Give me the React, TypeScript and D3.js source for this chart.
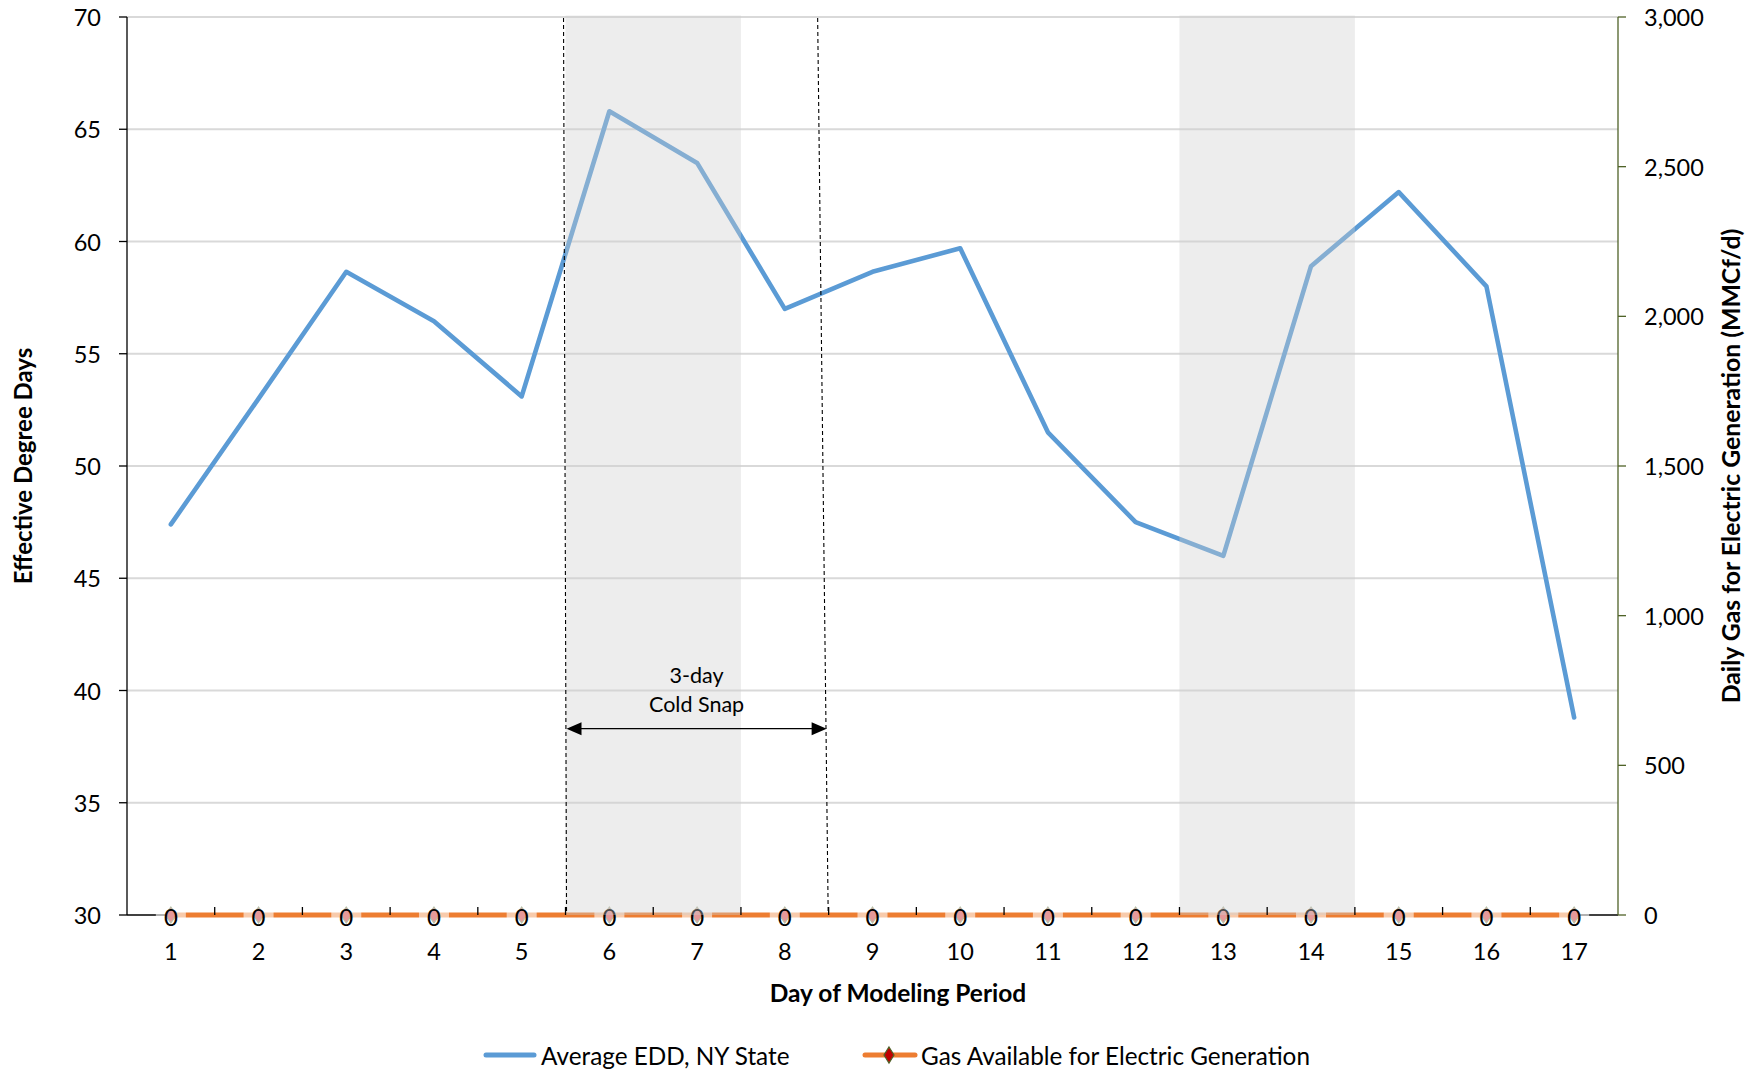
import React from "react";
import * as d3 from "d3";

// ---------- data ----------
const days = ["1", "2", "3", "4", "5", "6", "7", "8", "9", "10", "11", "12", "13", "14", "15", "16", "17"];
const averageEdd = [47.4, 53.0, 58.65, 56.45, 53.1, 65.8, 63.5, 57.0, 58.65, 59.7, 51.5, 47.5, 46.0, 58.9, 62.2, 58.0, 38.8];
const gasAvailable = [0, 0, 0, 0, 0, 0, 0, 0, 0, 0, 0, 0, 0, 0, 0, 0, 0];
const leftTicks = [30, 35, 40, 45, 50, 55, 60, 65, 70];
const rightTicks = [0, 500, 1000, 1500, 2000, 2500, 3000];
const shadedPeriods: [string, string][] = [["6", "7"], ["13", "14"]];
const coldSnapRange: [string, string] = ["6", "8"];
const coldSnapArrowLevel = 38.3;
const coldSnapLabel = ["3-day", "Cold Snap"];
const seriesNames = ["Average EDD, NY State", "Gas Available for Electric Generation"];

// ---------- layout ----------
const W = 1758;
const H = 1069;
const L = 127;
const R = 1618;
const T = 17;
const B = 915;
const FONT = "Lato, 'Open Sans', sans-serif";
const BLUE = "#5b9bd5";
const ORANGE = "#ed7d31";
const GREEN = "#4f6228";
const TICK_FS = 23.5;

export default function App() {
  const x = d3.scaleBand<string>().domain(days).range([L, R]).paddingInner(0).paddingOuter(0);
  const bw = x.bandwidth();
  const cx = (d: string) => (x(d) as number) + bw / 2;
  const yL = d3.scaleLinear().domain([30, 70]).range([B, T]);
  const yR = d3.scaleLinear().domain([0, 3000]).range([B, T]);

  const eddLine = d3
    .line<number>()
    .x((_, i) => cx(days[i]))
    .y((v) => yL(v))(averageEdd) as string;
  const gasLine = d3
    .line<number>()
    .x((_, i) => cx(days[i]))
    .y((v) => yR(v))(gasAvailable) as string;

  const fmt = d3.format(",");
  const snapX0 = x(coldSnapRange[0]) as number;
  const snapX1 = (x(coldSnapRange[1]) as number) + bw;
  const arrowY = yL(coldSnapArrowLevel);
  const ax0 = snapX0 + 1;
  const ax1 = snapX1 - 2;

  return (
    <svg
      width={W}
      height={H}
      style={{ position: "absolute", left: 0, top: 0, background: "#fff" }}
      fontFamily={FONT}
    >
      {/* gridlines */}
      {leftTicks
        .filter((t) => t > 30)
        .map((t) => (
          <line key={"g" + t} x1={L} x2={R} y1={yL(t)} y2={yL(t)} stroke="#d9d9d9" strokeWidth={1.8} />
        ))}

      {/* series lines */}
      <path d={eddLine} fill="none" stroke={BLUE} strokeWidth={4.6} strokeLinejoin="round" strokeLinecap="round" />
      <line x1={L} x2={R} y1={B} y2={B} stroke="#000" strokeWidth={1.3} />
      <path d={gasLine} fill="none" stroke={ORANGE} strokeWidth={5} />

      {/* gas markers + data labels */}
      {gasAvailable.map((v, i) => {
        const px = cx(days[i]);
        const py = yR(v);
        return (
          <g key={"lab" + i}>
            <polygon
              points={`${px},${py - 8} ${px + 5.5},${py} ${px},${py + 8} ${px - 5.5},${py}`}
              fill="#c00000"
              stroke={GREEN}
              strokeWidth={1.2}
            />
            <rect x={px - 15} y={py - 13} width={30} height={26} fill="#fff" fillOpacity={0.6} />
            <text x={px} y={py + 1} textAnchor="middle" dominantBaseline="central" fontSize={24} fill="#000">
              {fmt(v)}
            </text>
          </g>
        );
      })}

      {/* shaded periods (overlay) */}
      {shadedPeriods.map(([a, b], i) => (
        <rect
          key={"s" + i}
          x={x(a) as number}
          width={(x(b) as number) + bw - (x(a) as number)}
          y={T - 1.5}
          height={B - T + 1.5}
          fill="#cecece"
          fillOpacity={0.37}
        />
      ))}

      {/* x ticks (inside, at band boundaries) */}
      {days.slice(1).map((d) => (
        <line key={"xt" + d} x1={x(d) as number} x2={x(d) as number} y1={B} y2={B - 8} stroke="#000" strokeWidth={1.3} />
      ))}

      {/* cold snap dashed markers */}
      <line x1={snapX0 - 2} x2={snapX0 + 1} y1={T + 1} y2={B - 4} stroke="#000" strokeWidth={1.1} strokeDasharray="4,3" />
      <line x1={snapX1 - 11} x2={snapX1 - 0.5} y1={T + 1} y2={B - 4} stroke="#000" strokeWidth={1.1} strokeDasharray="4,3" />
      <line x1={ax0 + 8} x2={ax1 - 8} y1={arrowY} y2={arrowY} stroke="#000" strokeWidth={1.3} />
      <polygon points={`${ax0},${arrowY} ${ax0 + 15},${arrowY - 6.5} ${ax0 + 15},${arrowY + 6.5}`} fill="#000" />
      <polygon points={`${ax1},${arrowY} ${ax1 - 15},${arrowY - 6.5} ${ax1 - 15},${arrowY + 6.5}`} fill="#000" />
      <text x={(ax0 + ax1) / 2} y={arrowY - 54} textAnchor="middle" dominantBaseline="central" fontSize={21.5} fill="#000">
        {coldSnapLabel[0]}
      </text>
      <text x={(ax0 + ax1) / 2} y={arrowY - 25} textAnchor="middle" dominantBaseline="central" fontSize={21.5} fill="#000">
        {coldSnapLabel[1]}
      </text>

      {/* left axis */}
      <line x1={L} x2={L} y1={T} y2={B} stroke="#000" strokeWidth={1.3} />
      {leftTicks.map((t) => (
        <g key={"lt" + t}>
          <line x1={L - 8} x2={L} y1={yL(t)} y2={yL(t)} stroke="#000" strokeWidth={1.3} />
          <text x={101} y={yL(t)} textAnchor="end" dominantBaseline="central" fontSize={TICK_FS} fill="#000">
            {t}
          </text>
        </g>
      ))}

      {/* right axis */}
      <line x1={R} x2={R} y1={T} y2={B} stroke={GREEN} strokeWidth={1.3} />
      {rightTicks.map((t) => (
        <g key={"rt" + t}>
          <line x1={R} x2={R + 8} y1={yR(t)} y2={yR(t)} stroke={GREEN} strokeWidth={1.3} />
          <text x={1644} y={yR(t)} textAnchor="start" dominantBaseline="central" fontSize={TICK_FS} fill="#000">
            {fmt(t)}
          </text>
        </g>
      ))}

      {/* x labels */}
      {days.map((d) => (
        <text key={"xl" + d} x={cx(d)} y={951} textAnchor="middle" dominantBaseline="central" fontSize={TICK_FS} fill="#000">
          {d}
        </text>
      ))}

      {/* axis titles */}
      <text x={898} y={992} textAnchor="middle" dominantBaseline="central" fontSize={24.5} fontWeight="bold" fill="#000">
        Day of Modeling Period
      </text>
      <text
        transform={`translate(22,${(T + B) / 2}) rotate(-90)`}
        textAnchor="middle"
        dominantBaseline="central"
        fontSize={24}
        fontWeight="bold"
        fill="#000"
      >
        Effective Degree Days
      </text>
      <text
        transform={`translate(1730,${(T + B) / 2}) rotate(-90)`}
        textAnchor="middle"
        dominantBaseline="central"
        fontSize={24.8}
        fontWeight="bold"
        fill="#000"
      >
        Daily Gas for Electric Generation (MMCf/d)
      </text>

      {/* legend */}
      <line x1={486} x2={534} y1={1055} y2={1055} stroke={BLUE} strokeWidth={5} strokeLinecap="round" />
      <text x={541} y={1055} dominantBaseline="central" fontSize={24.3} fill="#000">
        {seriesNames[0]}
      </text>
      <line x1={865} x2={915} y1={1055} y2={1055} stroke={ORANGE} strokeWidth={5} strokeLinecap="round" />
      <polygon points={`889,1047 894,1055 889,1063 884,1055`} fill="#c00000" stroke={GREEN} strokeWidth={1.2} />
      <text x={921} y={1055} dominantBaseline="central" fontSize={24.3} fill="#000">
        {seriesNames[1]}
      </text>
    </svg>
  );
}
